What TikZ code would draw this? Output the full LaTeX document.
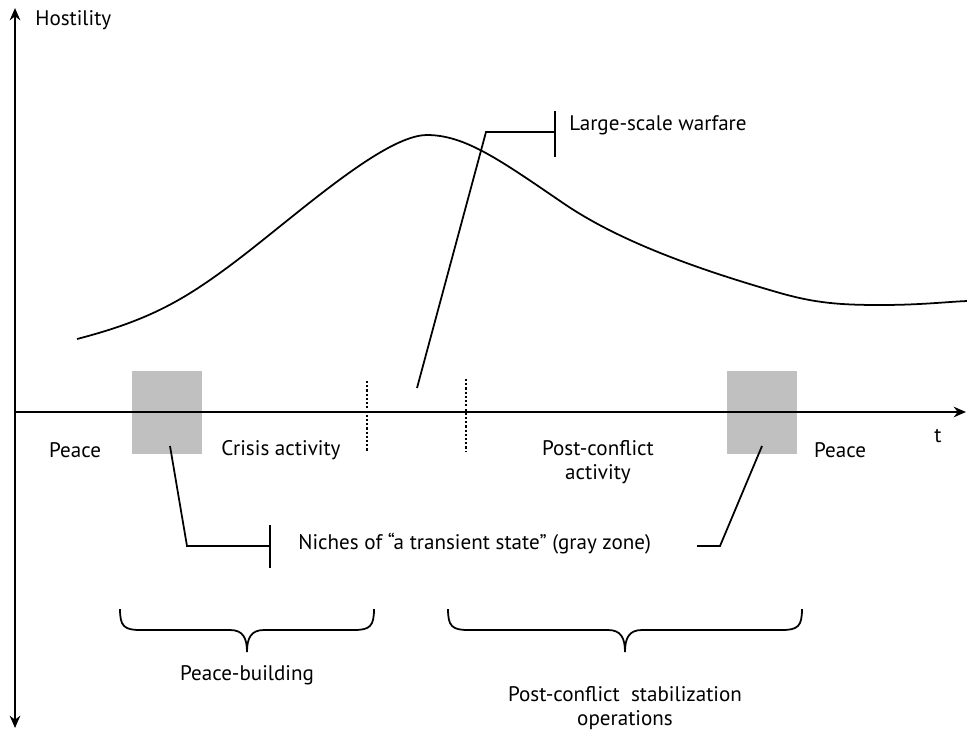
\documentclass[tikz,border=0pt]{standalone}
\usepackage{fontspec}
\setmainfont{PT Sans}
\usetikzlibrary{arrows.meta}

\begin{document}
\begin{tikzpicture}[x=0.02cm,y=-0.02cm,%%
  axisStyle/.style={{Stealth[length=7pt,width=6pt]}-{Stealth[length=7pt,width=6pt]},line width=1.1pt},%%
  arrowStyle/.style={-{Stealth[length=7pt,width=6pt]},line width=1.1pt},%%
  lineStyle/.style={-,line width=1pt},%%
  dotStyle/.style={-,line width=1pt,dash pattern=on 1.2pt off 1.2pt},%%
  zoneStyle/.style={fill=zoneGray,draw=none,minimum width=1.4cm,minimum height=1.66cm,inner sep=0pt},%%
  labelStyle/.style={font=\fontsize{12pt}{13.5pt}\selectfont,inner sep=0pt},%%
  braceStyle/.style={-,line width=1pt}%%
]
\definecolor{zoneGray}{RGB}{192,192,192}
%%
\useasboundingbox (0,0) rectangle (967,731);
%%
%% Gray zones.
\node[zoneStyle] (zoneLeft) at (167,412.5) {};
\node[zoneStyle] (zoneRight) at (762,412.5) {};
%%
%% Axes.
\coordinate (origin) at (15,412);
\coordinate (hostTop) at (15,8);
\coordinate (hostBottom) at (15,728);
\coordinate (timeEnd) at (966,412);
\draw[axisStyle] (hostBottom) -- (hostTop);
\draw[arrowStyle] (origin) -- (timeEnd);
\node[labelStyle,anchor=west] (hostility) at (35,20) {Hostility};
\node[labelStyle] (time) at (938,436) {t};
%%
%% The hostility curve.
\draw[lineStyle] (77,339) .. controls (150,320) and (185,300) .. (240,258)
  .. controls (300,212) and (385,135) .. (427,135)
  .. controls (465,135) and (500,160) .. (563,203)
  .. controls (620,242) and (700,270) .. (780,293)
  .. controls (815,303) and (840,305) .. (880,305)
  .. controls (920,305) and (945,302) .. (967,301);
%%
%% Phase limits.
\coordinate (limitOneTop) at (367,381);
\coordinate (limitOneBottom) at (367,452);
\coordinate (limitTwoTop) at (466,379);
\coordinate (limitTwoBottom) at (466,452);
\draw[dotStyle] (limitOneTop) -- (limitOneBottom);
\draw[dotStyle] (limitTwoTop) -- (limitTwoBottom);
%%
%% Phase labels.
\node[labelStyle] (peaceLeft) at (75,450) {Peace};
\node[labelStyle] (crisis) at (281,450) {Crisis activity};
\node[labelStyle,align=center] (postConflict) at (598,462) {Post-conflict\\activity};
\node[labelStyle] (peaceRight) at (840,450) {Peace};
%%
%% Large-scale warfare callout.
\coordinate (warStart) at (417,388);
\coordinate (warBend) at (486,132);
\coordinate (warTick) at (555,132);
\coordinate (warTickTop) at (555,111);
\coordinate (warTickBottom) at (555,157);
\draw[lineStyle] (warStart) -- (warBend) -- (warTick);
\draw[lineStyle] (warTickTop) -- (warTickBottom);
\node[labelStyle,anchor=west] (warfare) at (569,125) {Large-scale warfare};
%%
%% Gray zone callout.
\coordinate (nicheLeftStart) at (170,446);
\coordinate (nicheLeftBend) at (187,546);
\coordinate (nicheTick) at (270,546);
\coordinate (nicheTickTop) at (270,525);
\coordinate (nicheTickBottom) at (270,568);
\coordinate (nicheRightStart) at (762,446);
\coordinate (nicheRightBend) at (720,546);
\coordinate (nicheRightEnd) at (697,546);
\draw[lineStyle] (nicheLeftStart) -- (nicheLeftBend) -- (nicheTick);
\draw[lineStyle] (nicheTickTop) -- (nicheTickBottom);
\draw[lineStyle] (nicheRightStart) -- (nicheRightBend) -- (nicheRightEnd);
\node[labelStyle,anchor=west] (niches) at (298,544) {Niches of “a transient state” (gray zone)};
%%
%% Braces.
\draw[braceStyle] (120,609) .. controls (120,626) and (124,630) .. (140,630)
  -- (230,630) .. controls (243,630) and (247,638) .. (247,652)
  .. controls (247,638) and (251,630) .. (264,630)
  -- (354,630) .. controls (370,630) and (374,626) .. (374,609);
\draw[braceStyle] (448,609) .. controls (448,626) and (452,630) .. (468,630)
  -- (608,630) .. controls (621,630) and (625,638) .. (625,652)
  .. controls (625,638) and (629,630) .. (642,630)
  -- (782,630) .. controls (798,630) and (802,626) .. (802,609);
\node[labelStyle] (peaceBuilding) at (247,675) {Peace-building};
\node[labelStyle,align=center] (stabilization) at (625,708) {Post-conflict\ \ stabilization\\operations};
\end{tikzpicture}
\end{document}
